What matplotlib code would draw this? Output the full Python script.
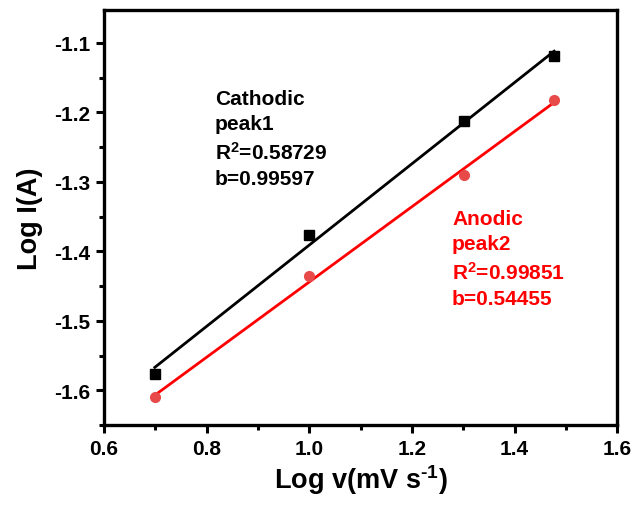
import numpy as np
import matplotlib.pyplot as plt
from matplotlib.ticker import MultipleLocator


# -------------------------
# Data
# -------------------------

log_v = [0.699, 1.0, 1.301, 1.477]

cathodic = [-1.576, -1.377, -1.213, -1.119]
anodic = [-1.610, -1.436, -1.290, -1.182]

cat_text = "Cathodic\npeak1\nR$^{2}$=0.58729\nb=0.99597"
ano_text = "Anodic\npeak2\nR$^{2}$=0.99851\nb=0.54455"


# -------------------------
# Style
# -------------------------

plt.rcParams["font.family"] = ["Liberation Sans", "DejaVu Sans"]
plt.rcParams["font.weight"] = "bold"
plt.rcParams["mathtext.fontset"] = "custom"
plt.rcParams["mathtext.rm"] = "Liberation Sans:bold"
plt.rcParams["mathtext.bf"] = "Liberation Sans:bold"
plt.rcParams["mathtext.it"] = "Liberation Sans:bold"
plt.rcParams["mathtext.default"] = "regular"

fig = plt.figure(figsize=(6.4, 5.06), dpi=100)
ax = fig.add_axes([0.1625, 0.158, 0.802, 0.82])


# -------------------------
# Fits + points
# -------------------------

x = np.array(log_v)
xx = np.array([x.min(), x.max()])

k1, c1 = np.polyfit(x, cathodic, 1)
k2, c2 = np.polyfit(x, anodic, 1)

ax.plot(xx, k1 * xx + c1, color="black", lw=2, zorder=2)
ax.plot(xx, k2 * xx + c2, color="red", lw=2, zorder=2)

ax.plot(log_v, cathodic, "s", color="black", ms=7, zorder=3)
ax.plot(log_v, anodic, "o", color="#e84a4a", ms=7, zorder=3)

ax.text(0.816, -1.166, cat_text, color="black", fontsize=15,
        fontweight="bold", va="top", ha="left", linespacing=1.42)
ax.text(1.278, -1.339, ano_text, color="red", fontsize=15,
        fontweight="bold", va="top", ha="left", linespacing=1.42)


# -------------------------
# Axes
# -------------------------

ax.set_xlim(0.6, 1.6)
ax.set_ylim(-1.65, -1.053)

ax.xaxis.set_minor_locator(MultipleLocator(0.1))
ax.yaxis.set_minor_locator(MultipleLocator(0.05))

ax.set_xticks(np.arange(0.6, 1.61, 0.2))
ax.set_xticklabels(["0.6", "0.8", "1.0", "1.2", "1.4", "1.6"])
ax.set_yticks(np.arange(-1.6, -1.05, 0.1))
ax.set_yticklabels(["-1.6", "-1.5", "-1.4", "-1.3", "-1.2", "-1.1"])

ax.tick_params(which="major", direction="out", length=6, width=2.2,
               labelsize=15, pad=4)
ax.tick_params(which="minor", direction="out", length=3.5, width=2.2)

for lab in ax.get_xticklabels() + ax.get_yticklabels():
    lab.set_fontweight("bold")

for sp in ax.spines.values():
    sp.set_linewidth(2.4)

ax.set_xlabel(r"Log v(mV s$^{\text{-}1}$)", fontsize=19.5, fontweight="bold",
              labelpad=3)
ax.set_ylabel("Log I(A)", fontsize=19.5, fontweight="bold", labelpad=8)

fig.savefig("out.png", dpi=100)
